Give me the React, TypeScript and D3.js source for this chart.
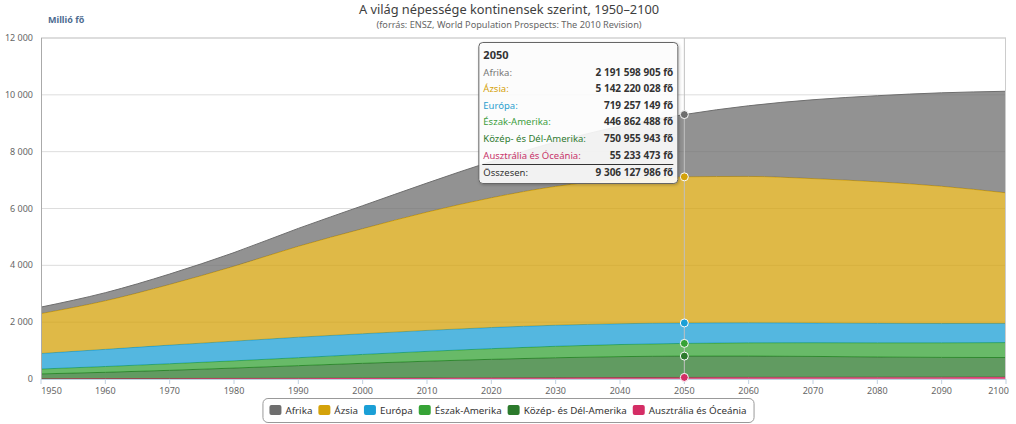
import React, { useMemo } from 'react';
import * as d3 from 'd3';

// population in millions, UN WPP 2010 (medium variant), per decade
const years = [1950, 1960, 1970, 1980, 1990, 2000, 2010, 2020, 2030, 2040, 2050, 2060, 2070, 2080, 2090, 2100];
const afrika = [229, 285, 366, 478, 630, 808, 1022, 1278, 1562, 1870, 2191.598905, 2486, 2775, 3030, 3289, 3573];
const azsia = [1403, 1708, 2135, 2638, 3199, 3698, 4164, 4566, 4887, 5080, 5142.220028, 5150, 5080, 4980, 4830, 4596];
const europa = [547, 604, 656, 693, 721, 727, 738, 744, 741, 732, 719.257149, 706, 695, 687, 679, 675];
const eszakAmerika = [172, 204, 231, 254, 280, 313, 345, 375, 403, 426, 446.862488, 465, 482, 497, 512, 526];
const kozepDelAmerika = [167, 220, 286, 362, 443, 521, 590, 652, 702, 736, 750.955943, 749, 733, 711, 695, 688];
const ausztralia = [12.8, 15.8, 19.7, 22.9, 27, 31, 36.6, 41, 46, 51, 55.233473, 59, 62, 64, 66, 67];

const seriesNames = ['Afrika', 'Ázsia', 'Európa', 'Észak-Amerika', 'Közép- és Dél-Amerika', 'Ausztrália és Óceánia'];
const seriesData = [afrika, azsia, europa, eszakAmerika, kozepDelAmerika, ausztralia];
const seriesColors = ['#6e6e6e', '#d4a20a', '#1b9fd6', '#36a336', '#2c7a2c', '#d42d65'];
const tooltipColors = ['#777777', '#d4a20a', '#2a9fcf', '#3d9e3d', '#2f7a2f', '#c8336a'];

const yTicks = [0, 2000, 4000, 6000, 8000, 10000, 12000];
const hoverYear = 2050;

const W = 1016;
const H = 424;
const PL = 41, PR = 1006, PT = 38, PB = 379;
const FONT = '"Noto Sans", sans-serif';

const fmtSpace = (v: number) => d3.format(',')(v).replace(/,/g, ' ');

function measure(text: string, font: string) {
  const c = document.createElement('canvas').getContext('2d');
  if (!c) return text.length * 5.5;
  c.font = font;
  return c.measureText(text).width;
}

export default function App() {
  const x = d3.scaleLinear().domain([1950, 2100]).range([PL, PR]);
  const y = d3.scaleLinear().domain([0, 12000]).range([PB, PT]);

  const rows = years.map((yr, i) => {
    const r: any = { year: yr };
    seriesNames.forEach((n, k) => (r[n] = seriesData[k][i]));
    return r;
  });

  // first series on top, like the original
  const stackKeys = [...seriesNames].reverse();
  const layers = d3.stack<any>().keys(stackKeys)(rows);

  const area = d3
    .area<any>()
    .x((d) => x(d.data.year))
    .y0((d) => y(d[0]))
    .y1((d) => y(d[1]))
    .curve(d3.curveMonotoneX);
  const line = d3
    .line<any>()
    .x((d) => x(d.data.year))
    .y((d) => y(d[1]))
    .curve(d3.curveMonotoneX);

  const hi = years.indexOf(hoverYear);
  const hx = x(hoverYear);

  // legend layout
  const legendFont = `9.8px ${FONT}`;
  const legendItems = useMemo(() => {
    let cx = 0;
    return seriesNames.map((n, i) => {
      const w = measure(n, legendFont);
      const item = { name: n, color: seriesColors[i], x: cx, w };
      cx += 12 + 4 + w + 6;
      return item;
    });
  }, []);
  const last = legendItems[legendItems.length - 1];
  const legendW = last.x + 16 + last.w;
  const legendBoxW = legendW + 14;
  const legendX = 508 - legendBoxW / 2;

  // tooltip
  const tipW = 199;
  const tipH = 141;
  const tipX = hx - tipW - 7;
  const tipY = 42;
  const total = seriesData.reduce((s, arr) => s + arr[hi], 0);

  return (
    <svg
      width={W}
      height={H}
      style={{ position: 'absolute', left: 0, top: 0, background: '#fff' }}
      fontFamily={FONT}
    >
      <defs>
        <filter id="tipShadow" x="-10%" y="-10%" width="130%" height="130%">
          <feDropShadow dx="1" dy="1" stdDeviation="1.5" floodColor="#000" floodOpacity="0.25" />
        </filter>
      </defs>

      {/* title */}
      <text x={509} y={14} textAnchor="middle" fontSize={12.8} fill="#3e3e3e">
        A világ népessége kontinensek szerint, 1950–2100
      </text>
      <text x={509} y={27.5} textAnchor="middle" fontSize={9.2} fill="#666">
        (forrás: ENSZ, World Population Prospects: The 2010 Revision)
      </text>
      <text x={48} y={23} fontSize={9} fontWeight="bold" fill="#4d6b8f">
        Millió fő
      </text>

      {/* grid */}
      {yTicks.map((t) => (
        <g key={t}>
          <line x1={PL} x2={PR} y1={y(t)} y2={y(t)} stroke={t === 12000 ? '#bbb' : '#ddd'} />
          <text x={33} y={y(t) + 3} textAnchor="end" fontSize={9} fill="#666">
            {fmtSpace(t)}
          </text>
        </g>
      ))}

      {/* areas */}
      {layers.map((layer) => {
        const k = seriesNames.indexOf(layer.key);
        return (
          <g key={layer.key}>
            <path d={area(layer) || ''} fill={seriesColors[k]} fillOpacity={0.75} />
            <path d={line(layer) || ''} fill="none" stroke={seriesColors[k]} strokeWidth={1} />
          </g>
        );
      })}

      {/* axes */}
      <line x1={PL + 0.5} x2={PL + 0.5} y1={PT} y2={PB} stroke="#aaa" />
      <line x1={PR - 0.5} x2={PR - 0.5} y1={PT} y2={PB} stroke="#ccc" />
      <line x1={PL} x2={PR} y1={PB + 0.5} y2={PB + 0.5} stroke="#c0d0e0" />
      {years.map((yr) => {
        const tx = x(yr);
        const lw = 21;
        const lx = Math.min(Math.max(tx, PL + lw / 2), PR - lw / 2 + 3);
        return (
          <g key={yr}>
            <line x1={tx} x2={tx} y1={PB} y2={PB + 5} stroke="#c0d0e0" />
            <text x={lx} y={394} textAnchor="middle" fontSize={9} fill="#666">
              {yr}
            </text>
          </g>
        );
      })}

      {/* hover crosshair and markers */}
      <line x1={hx} x2={hx} y1={PT} y2={PB} stroke="#c0c0c0" strokeWidth={1} />
      {layers.map((layer) => {
        const k = seriesNames.indexOf(layer.key);
        return (
          <circle
            key={layer.key}
            cx={hx}
            cy={y(layer[hi][1])}
            r={4}
            fill={seriesColors[k]}
            stroke="#fff"
            strokeWidth={1}
          />
        );
      })}

      {/* tooltip */}
      <g transform={`translate(${tipX},${tipY})`}>
        <rect
          x={0.5}
          y={0.5}
          width={tipW}
          height={tipH}
          rx={4}
          fill="rgba(255,255,255,0.88)"
          stroke="#666"
          strokeWidth={1}
          filter="url(#tipShadow)"
        />
        <text x={5} y={17} fontSize={11} fontWeight="bold" fill="#333">
          {hoverYear}
        </text>
        {seriesNames.map((n, i) => (
          <g key={n}>
            <text x={5} y={33.5 + i * 16.6} fontSize={9.5} fill={tooltipColors[i]}>
              {n}:
            </text>
            <text x={195} y={33.5 + i * 16.6} textAnchor="end" fontSize={10} fontWeight="bold" fill="#333">
              {fmtSpace(Math.round(seriesData[i][hi] * 1e6))} fő
            </text>
          </g>
        ))}
        <line x1={4} x2={195} y1={122.5} y2={122.5} stroke="#333" strokeWidth={1} />
        <text x={5} y={134} fontSize={9.5} fill="#333">
          Összesen:
        </text>
        <text x={195} y={134} textAnchor="end" fontSize={10} fontWeight="bold" fill="#333">
          {fmtSpace(Math.round(total * 1e6))} fő
        </text>
      </g>

      {/* legend */}
      <rect x={legendX + 0.5} y={398.5} width={legendBoxW} height={24} rx={5} fill="#fff" stroke="#999" />
      {legendItems.map((it) => (
        <g key={it.name} transform={`translate(${legendX + 7 + it.x},0)`}>
          <rect x={0} y={405} width={12} height={10} rx={2} fill={it.color} />
          <text x={16} y={414} fontSize={9.8} fill="#333">
            {it.name}
          </text>
        </g>
      ))}
    </svg>
  );
}
